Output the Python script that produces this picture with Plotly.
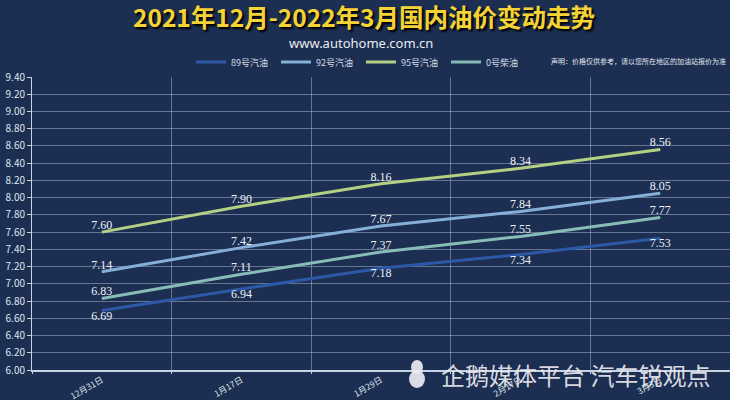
import plotly.graph_objects as go

dates = ["12月31日", "1月17日", "1月29日", "2月17日", "3月3日"]
series_names = ["89号汽油", "92号汽油", "95号汽油", "0号柴油"]
oil89 = [6.69, 6.94, 7.18, 7.34, 7.53]
oil92 = [7.14, 7.42, 7.67, 7.84, 8.05]
oil95 = [7.60, 7.90, 8.16, 8.34, 8.56]
diesel0 = [6.83, 7.11, 7.37, 7.55, 7.77]

colors = ["#2d58a6", "#86afd8", "#b4d085", "#88bcb6"]
values = [oil89, oil92, oil95, diesel0]
positions = ["bottom center", "top center", "top center", "top center"]

fig = go.Figure()
for name, vals, col, pos in zip(series_names, values, colors, positions):
    fig.add_trace(go.Scatter(
        x=dates, y=vals, name=name, mode="lines+text",
        line=dict(color=col, width=3),
        text=[f"{v:.2f}" for v in vals], textposition=pos,
        textfont=dict(family="Liberation Serif", size=12, color="#eef2f8"),
        cliponaxis=False,
    ))

grid = "rgba(190,205,230,0.45)"
fig.update_layout(
    width=730, height=400,
    margin=dict(l=32, r=0, t=77, b=30, autoexpand=False),
    paper_bgcolor="#1c2e51", plot_bgcolor="#1c2e51",
    font=dict(family="Noto Sans CJK SC", color="#dfe6f0"),
    showlegend=True,
    legend=dict(orientation="h", x=(191 - 32) / 698, xanchor="left",
                y=1 + 15 / 293, yanchor="middle",
                font=dict(size=9, color="#d5dce8"), bgcolor="rgba(0,0,0,0)",
                itemwidth=30, entrywidth=40, tracegroupgap=0),
    xaxis=dict(type="category", range=[-0.5, 4.5], tickson="boundaries",
               automargin=False,
               showgrid=True, gridcolor=grid, gridwidth=1,
               showline=True, linecolor="#c8d2e2", linewidth=2,
               ticks="outside", ticklen=2, tickcolor="#c8d2e2",
               tickangle=-30, tickfont=dict(size=8.5, color="#dfe6f0"),
               zeroline=False),
    yaxis=dict(range=[6.0, 9.4], dtick=0.2, tick0=6.0, tickformat=".2f",
               automargin=False,
               showgrid=True, gridcolor=grid, gridwidth=1,
               showline=True, linecolor="#c8d2e2", linewidth=1,
               ticks="outside", ticklen=4, tickcolor="#c8d2e2",
               tickfont=dict(size=10, color="#dfe6f0"), zeroline=False),
    annotations=[
        dict(text="<b>2021年12月-2022年3月国内油价变动走势</b>", xref="paper", yref="paper",
             x=(364 - 32) / 698, y=1.0, xanchor="center", yanchor="middle",
             yshift=77 - 16, showarrow=False,
             font=dict(family="Noto Sans CJK SC", size=24.5, color="#f6d335",
                       shadow="2px 2px 2px #000")),
        dict(text="www.autohome.com.cn", xref="paper", yref="paper",
             x=(361 - 32) / 698, y=1.0, xanchor="center", yanchor="middle",
             yshift=77 - 43, showarrow=False,
             font=dict(family="Noto Sans", size=13, color="#e8ecf2")),
        dict(text="声明：价格仅供参考，请以您所在地区的加油站报价为准", xref="paper", yref="paper",
             x=1.0, y=1.0, xanchor="right", yanchor="middle", xshift=-2,
             yshift=77 - 61, showarrow=False,
             font=dict(family="Noto Sans CJK SC", size=7, color="#e2e7ef")),
        dict(text="企鹅媒体平台 汽车锐观点", xref="paper", yref="paper",
             x=(439 - 32) / 698, y=0, xanchor="left", yanchor="middle",
             yshift=-4, showarrow=False,
             font=dict(family="Noto Sans CJK SC", size=24, color="rgba(235,235,240,0.92)")),
    ],
    shapes=[
        dict(type="circle", xref="paper", yref="paper",
             x0=(409 - 32) / 698, x1=(425 - 32) / 698, y0=-18 / 293, y1=0 / 293,
             fillcolor="rgba(235,235,240,0.92)", line=dict(width=0)),
        dict(type="circle", xref="paper", yref="paper",
             x0=(411 - 32) / 698, x1=(423 - 32) / 698, y0=-4 / 293, y1=10 / 293,
             fillcolor="rgba(235,235,240,0.92)", line=dict(width=0)),
    ],
)

fig.write_html("out.html")
